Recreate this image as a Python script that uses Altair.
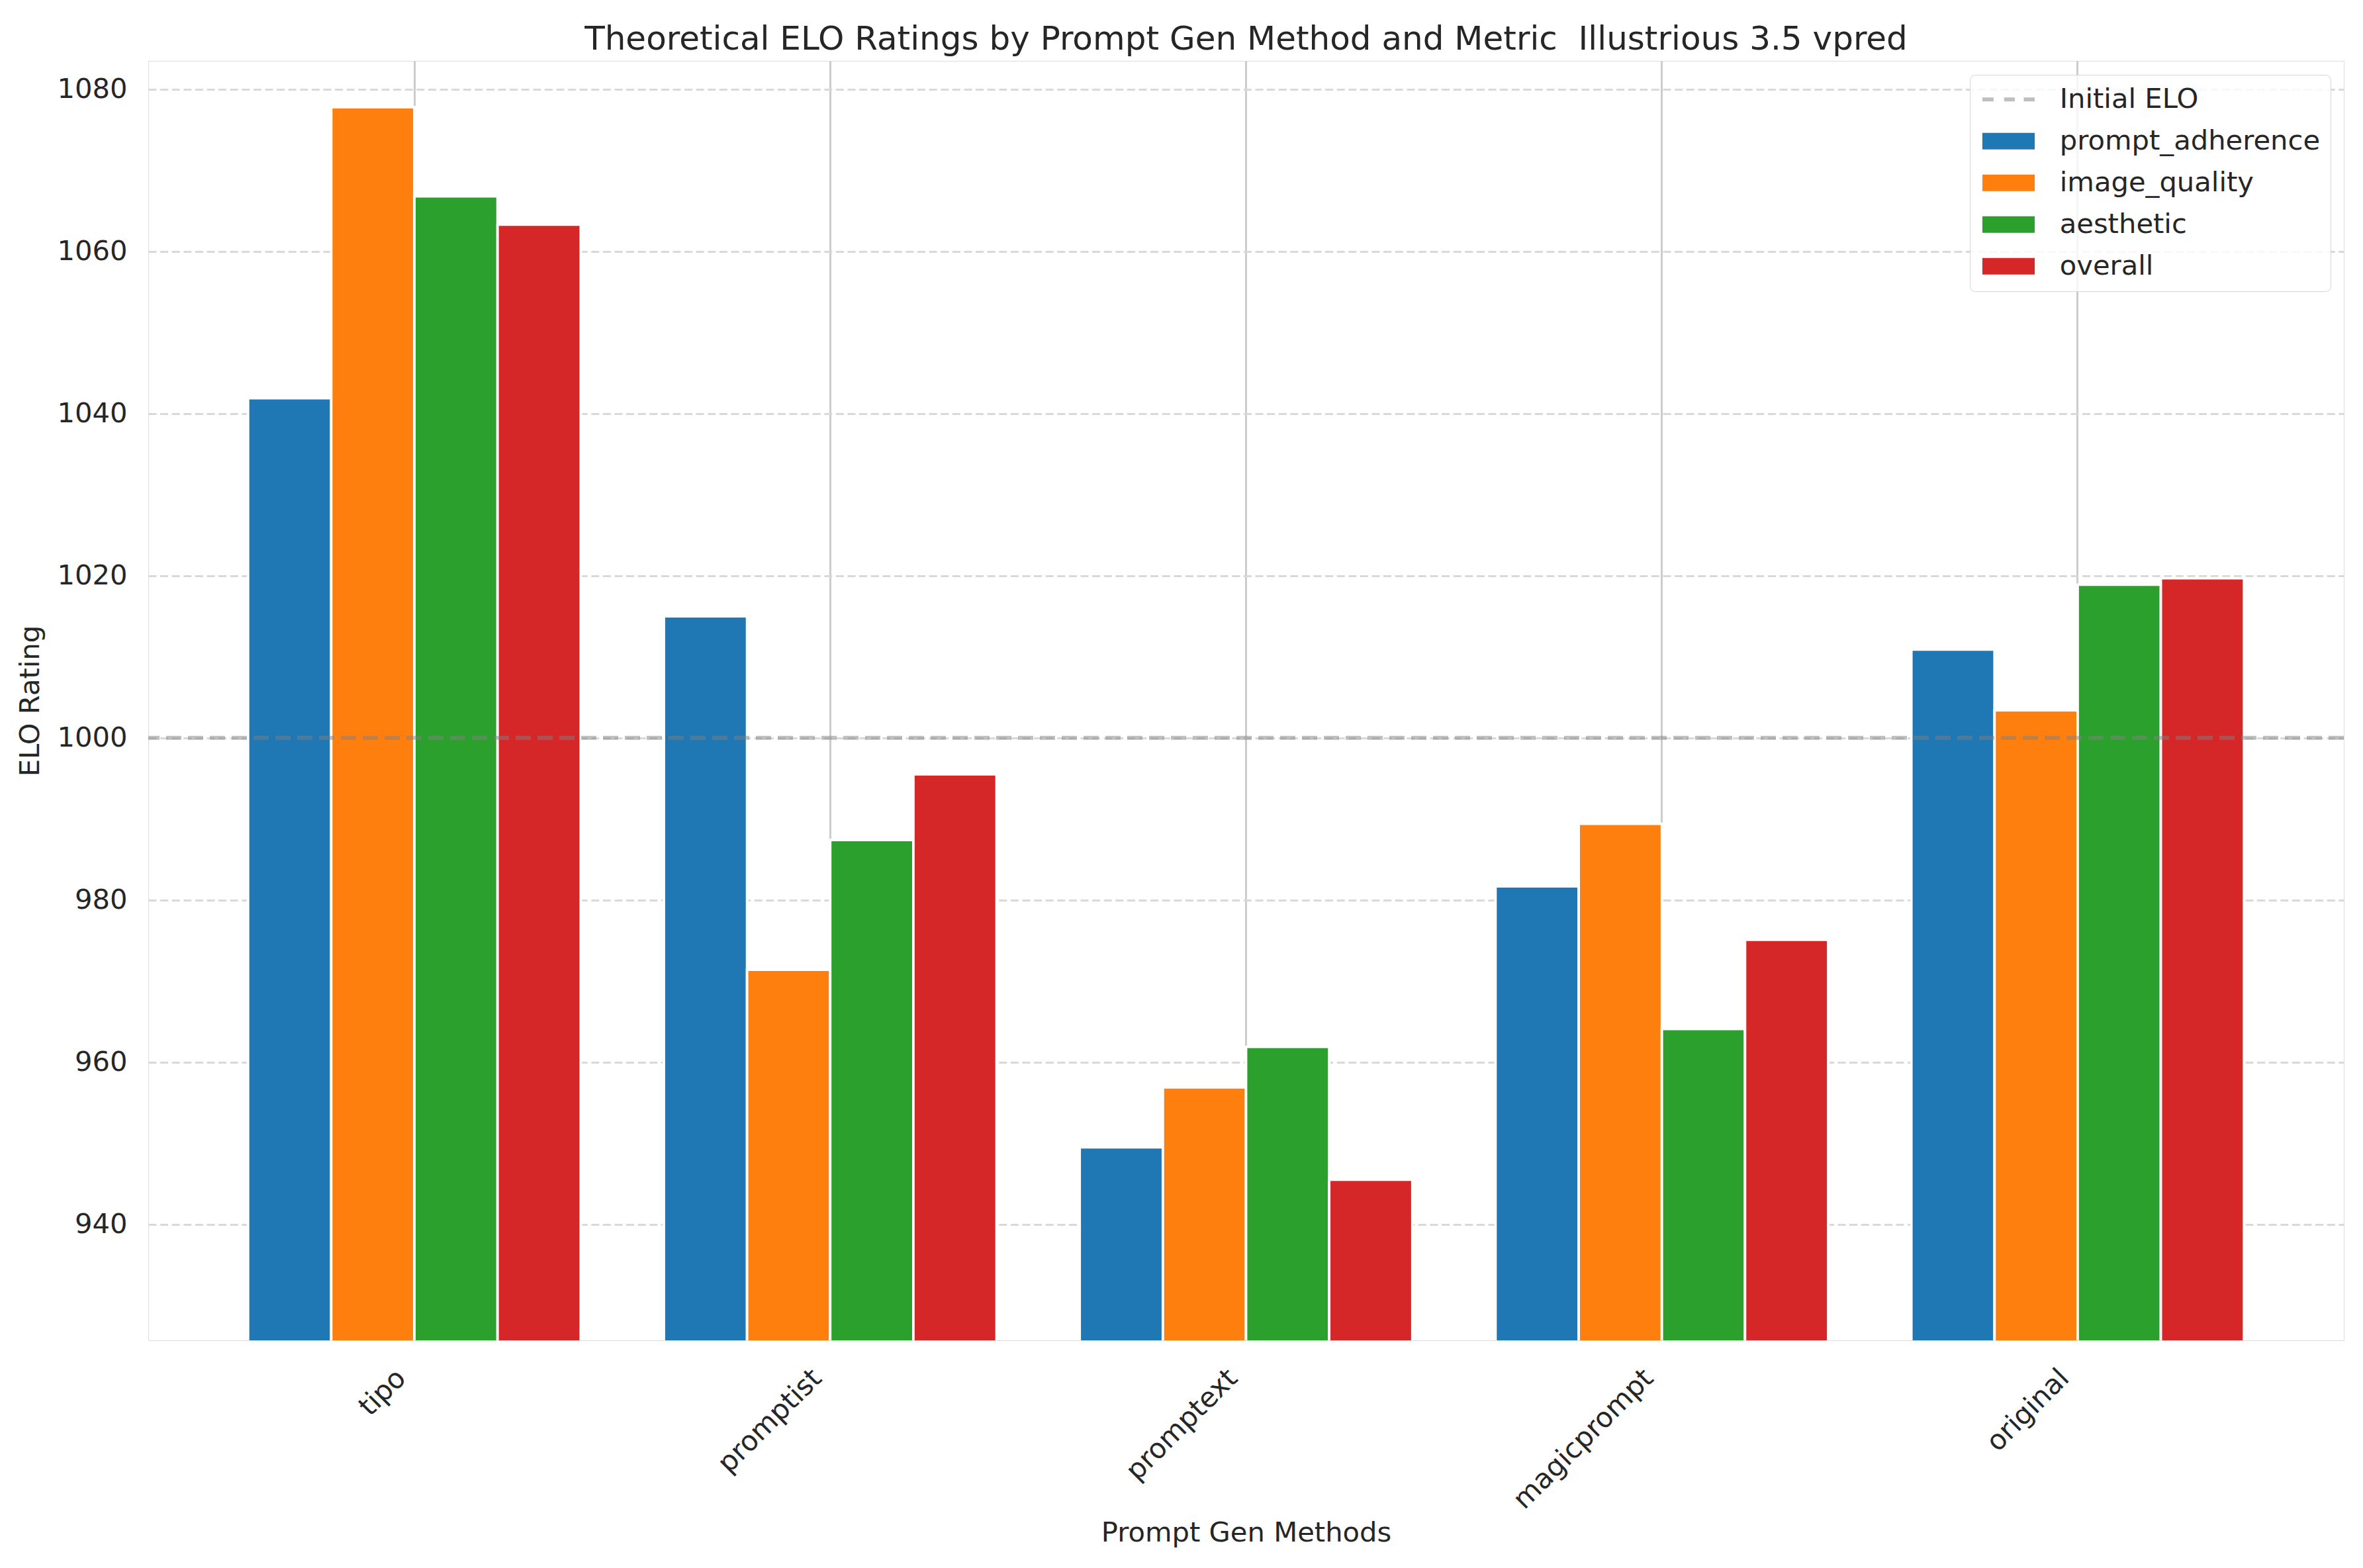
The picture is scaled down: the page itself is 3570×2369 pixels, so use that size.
import altair as alt
import pandas as pd

# ---- data ----
methods = ["tipo", "promptist", "promptext", "magicprompt", "original"]
metrics = ["prompt_adherence", "image_quality", "aesthetic", "overall"]
prompt_adherence = [1041.9, 1015.0, 949.5, 981.7, 1010.9]
image_quality = [1077.8, 971.4, 956.9, 989.4, 1003.4]
aesthetic = [1066.8, 987.4, 961.9, 964.1, 1018.9]
overall = [1063.3, 995.5, 945.5, 975.1, 1019.7]
initial_elo = [1000]
y_ticks = [940, 960, 980, 1000, 1020, 1040, 1060, 1080]
y_domain = [925.7, 1083.5]
bar_colors = ["#1f77b4", "#ff7f0e", "#2ca02c", "#d62728"]
ref_label = "Initial ELO"
ref_color = "#bfbfbf"

series = {
    "prompt_adherence": prompt_adherence,
    "image_quality": image_quality,
    "aesthetic": aesthetic,
    "overall": overall,
}
rows = []
for m in metrics:
    for meth, v in zip(methods, series[m]):
        rows.append({"method": meth, "metric": m, "elo": v})
df = pd.DataFrame(rows)
ref_df = pd.DataFrame({"elo": initial_elo})

FONT = "DejaVu Sans"
TXT = "#262626"
W, H = 3317, 1933

rect_path = "M-0.85,-0.58H2.83V0.58H-0.85Z"
dash_path = ("M-0.85,-0.14H-0.06V0.14H-0.85Z"
             "M0.68,-0.14H1.43V0.14H0.68Z"
             "M2.06,-0.14H2.83V0.14H2.06Z")
shape_expr = f"datum.value === '{ref_label}' ? '{dash_path}' : '{rect_path}'"

legend = alt.Legend(
    title=None,
    orient="none",
    legendX=2752,
    legendY=21,
    symbolType=alt.ExprRef(expr=shape_expr),
    symbolSize=1849,
    symbolStrokeWidth=0,
    labelFont=FONT,
    labelFontSize=41.7,
    labelColor=TXT,
    labelOffset=77,
    labelLimit=0,
    padding=15.7,
    rowPadding=19,
    strokeColor="#d5d5d5",
    fillColor="rgba(255,255,255,0.8)",
    cornerRadius=8,
)

bars = alt.Chart(df).mark_bar(stroke="white", strokeWidth=3.8, clip=True).encode(
    x=alt.X(
        "method:N",
        sort=methods,
        title="Prompt Gen Methods",
        scale=alt.Scale(paddingInner=0.2, paddingOuter=0.24),
        axis=alt.Axis(
            labelAngle=315,
            labelAlign="right",
            labelBaseline="top",
            labelOffset=-34,
            labelPadding=36,
            labelLimit=0,
            labelFont=FONT,
            labelFontSize=41.7,
            labelColor=TXT,
            grid=True,
            gridColor="#cccccc",
            gridWidth=3,
            bandPosition=0.5,
            ticks=False,
            domain=False,
            titleFont=FONT,
            titleFontSize=41.7,
            titleFontWeight="normal",
            titleColor=TXT,
            titlePadding=70,
        ),
    ),
    xOffset=alt.XOffset(
        "metric:N", sort=metrics, scale=alt.Scale(paddingInner=0, paddingOuter=0)
    ),
    y=alt.Y(
        "elo:Q",
        title="ELO Rating",
        scale=alt.Scale(domain=y_domain, nice=False, zero=False),
        axis=alt.Axis(
            values=y_ticks,
            format="d",
            labelFont=FONT,
            labelFontSize=41.7,
            labelColor=TXT,
            labelPadding=32,
            ticks=False,
            domain=False,
            grid=True,
            gridColor="#d9d9d9",
            gridWidth=3,
            gridDash=[12, 5.6],
            titleFont=FONT,
            titleFontSize=41.7,
            titleFontWeight="normal",
            titleColor=TXT,
            titlePadding=18,
        ),
    ),
    color=alt.Color(
        "metric:N",
        scale=alt.Scale(domain=[ref_label] + metrics, range=[ref_color] + bar_colors),
        legend=legend,
    ),
)

rule = alt.Chart(ref_df).mark_rule(
    color="gray", opacity=0.5, strokeWidth=6, strokeDash=[23, 10]
).encode(y=alt.Y("elo:Q"))

chart = (
    alt.layer(bars, rule)
    .properties(
        width=W,
        height=H,
        title=alt.TitleParams(
            "Theoretical ELO Ratings by Prompt Gen Method and Metric \u00a0Illustrious 3.5 vpred",
            font=FONT,
            fontSize=50,
            fontWeight="normal",
            color=TXT,
            anchor="middle",
            frame="group",
            baseline="alphabetic",
            offset=25,
            dy=58,
        ),
        autosize=alt.AutoSizeParams(type="none"),
        padding={"left": 216, "top": 84, "right": 20, "bottom": 330},
    )
    .configure_view(stroke="#cccccc", strokeWidth=3.5)
    .configure_legend(strokeWidth=3.5)
    .configure(background="white")
)

chart.save("out.html", embed_options={"renderer": "svg", "actions": False})
